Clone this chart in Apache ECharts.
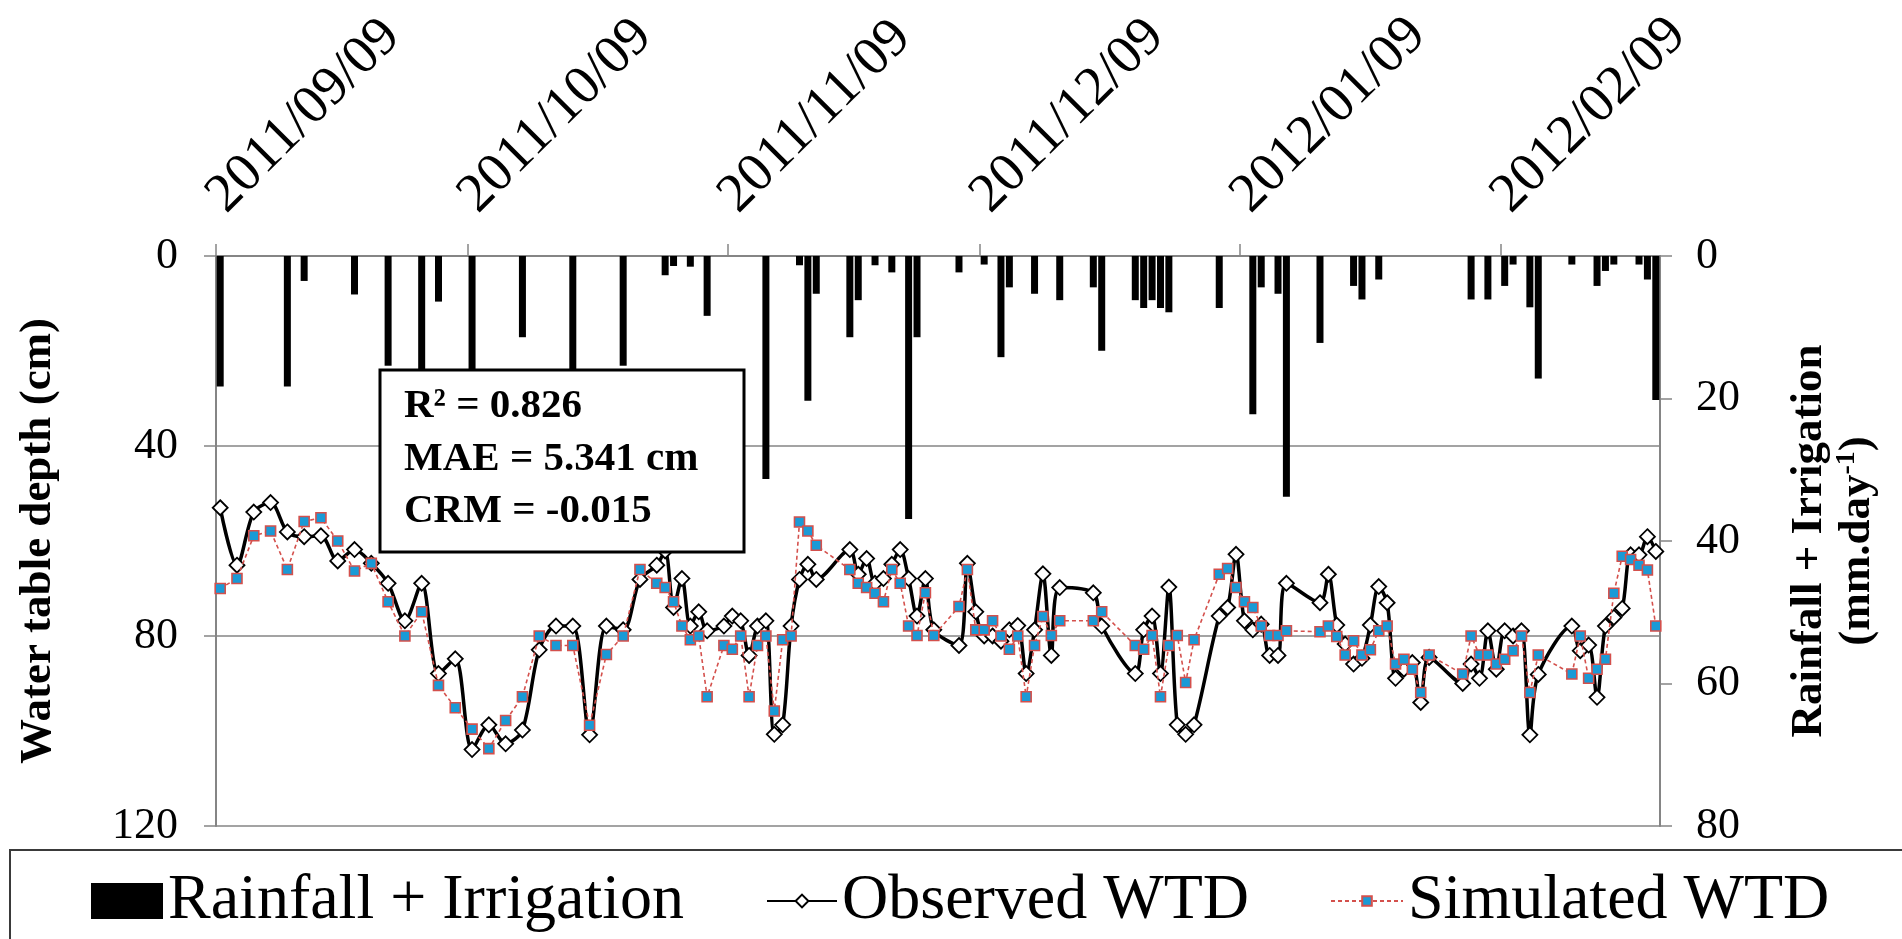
<!DOCTYPE html>
<html><head><meta charset="utf-8">
<script src="https://cdn.jsdelivr.net/npm/echarts@6/dist/echarts.min.js"></script>
<style>html,body{margin:0;padding:0;background:#fff}#c{width:1902px;height:939px}</style>
</head><body><div id="c"></div>
<script>
// ---------- data ----------
const axisStart = '2011/09/09';
const axisEnd = '2012/02/28';
const tickDates = ['2011/09/09','2011/10/09','2011/11/09','2011/12/09','2012/01/09','2012/02/09'];

const rainDates = ['2011/09/09','2011/09/17','2011/09/19','2011/09/25','2011/09/29','2011/10/03','2011/10/05','2011/10/09','2011/10/15','2011/10/21','2011/10/27',
 '2011/11/01','2011/11/02','2011/11/04','2011/11/06','2011/11/13','2011/11/17','2011/11/18','2011/11/19','2011/11/23','2011/11/24','2011/11/26','2011/11/28','2011/11/30',
 '2011/12/01','2011/12/06','2011/12/09','2011/12/11','2011/12/12','2011/12/15','2011/12/18','2011/12/22','2011/12/23','2011/12/27','2011/12/28','2011/12/29','2011/12/30','2011/12/31',
 '2012/01/06','2012/01/10','2012/01/11','2012/01/13','2012/01/14','2012/01/18','2012/01/22','2012/01/23','2012/01/25',
 '2012/02/05','2012/02/07','2012/02/09','2012/02/10','2012/02/12','2012/02/13','2012/02/17','2012/02/20','2012/02/21','2012/02/22','2012/02/25','2012/02/26','2012/02/27'];
const rainValues = [18.3,18.3,3.5,5.4,15.4,24,6.4,22,11.4,27,15.4,
 2.7,1.4,1.5,8.4,31.3,1.3,20.3,5.3,11.4,6.2,1.3,2.3,36.9,
 11.4,2.3,1.2,14.2,4.4,5.3,6.2,4.4,13.3,6.2,7.3,6.2,7.3,7.9,
 7.3,22.2,4.4,5.3,33.8,12.2,4.2,6.1,3.3,
 6.1,6.1,4.2,1.2,7.2,17.2,1.2,4.2,2.1,1.2,1.2,3.3,20.2];

const wtdDates = ['2011/09/09','2011/09/11','2011/09/13','2011/09/15','2011/09/17','2011/09/19','2011/09/21','2011/09/23','2011/09/25','2011/09/27','2011/09/29',
 '2011/10/01','2011/10/03','2011/10/05','2011/10/07','2011/10/09','2011/10/11','2011/10/13','2011/10/15','2011/10/17','2011/10/19','2011/10/21','2011/10/23','2011/10/25','2011/10/27','2011/10/29','2011/10/31',
 '2011/11/01','2011/11/02','2011/11/03','2011/11/04','2011/11/05','2011/11/06','2011/11/08','2011/11/09','2011/11/10','2011/11/11','2011/11/12','2011/11/13','2011/11/14','2011/11/15','2011/11/16','2011/11/17','2011/11/18','2011/11/19',
 '2011/11/23','2011/11/24','2011/11/25','2011/11/26','2011/11/27','2011/11/28','2011/11/29','2011/11/30',
 '2011/12/01','2011/12/02','2011/12/03','2011/12/06','2011/12/07','2011/12/08','2011/12/09','2011/12/10','2011/12/11','2011/12/12','2011/12/13','2011/12/14','2011/12/15','2011/12/16','2011/12/17','2011/12/18',
 '2011/12/22','2011/12/23','2011/12/27','2011/12/28','2011/12/29','2011/12/30','2011/12/31',
 '2012/01/01','2012/01/02','2012/01/03','2012/01/06','2012/01/07','2012/01/08','2012/01/09','2012/01/10','2012/01/11','2012/01/12','2012/01/13','2012/01/14',
 '2012/01/18','2012/01/19','2012/01/20','2012/01/21','2012/01/22','2012/01/23','2012/01/24','2012/01/25','2012/01/26','2012/01/27','2012/01/28','2012/01/29','2012/01/30','2012/01/31',
 '2012/02/04','2012/02/05','2012/02/06','2012/02/07','2012/02/08','2012/02/09','2012/02/10','2012/02/11','2012/02/12','2012/02/13',
 '2012/02/17','2012/02/18','2012/02/19','2012/02/20','2012/02/21','2012/02/22','2012/02/23','2012/02/24','2012/02/25','2012/02/26','2012/02/27'];
const observedWTD = [53.0,65.1,53.9,51.9,58.1,59.1,58.9,64.2,61.8,64.7,68.9,
 76.8,68.9,87.9,84.8,103.9,98.7,102.7,99.8,82.9,77.9,77.9,100.8,77.9,78.7,68.1,65.1,
 62.1,74.0,67.9,77.9,74.9,78.9,77.9,75.8,76.8,84.1,77.9,76.8,100.7,98.7,77.9,68.1,64.9,68.1,
 61.8,67.0,63.7,68.9,67.9,64.9,61.8,67.9,
 75.8,67.9,78.7,82.0,64.7,74.9,80.0,80.0,81.1,78.7,77.8,87.9,78.7,66.9,84.1,69.8,
 70.9,77.9,87.9,78.7,75.8,87.9,69.7,
 98.7,100.7,98.7,75.8,74.0,62.8,76.8,78.7,77.5,84.1,84.1,68.9,
 73.0,67.0,77.7,81.7,85.9,84.7,77.7,69.6,73.0,88.9,87.0,85.6,94.0,84.5,
 90.0,85.9,88.9,78.9,87.0,78.9,80.0,78.9,100.8,88.1,
 77.9,83.1,81.9,92.9,77.9,76.1,74.2,62.9,62.9,59.1,62.2];
const simulatedWTD = [70.0,67.9,58.9,57.9,66.0,55.9,55.1,60.0,66.3,64.7,72.8,
 80.0,74.9,90.4,95.1,99.6,103.7,97.8,92.8,80.0,82.0,82.0,98.8,83.9,80.0,66.0,68.9,
 69.8,72.8,77.9,80.8,80.0,92.8,82.0,82.8,80.0,92.8,82.0,80.0,95.8,80.8,80.0,56.0,57.9,60.9,
 66.0,68.9,69.8,71.0,72.8,66.0,68.9,77.9,
 79.9,70.9,79.9,73.8,66.0,78.7,78.7,76.8,80.0,82.8,80.0,92.8,82.0,75.9,79.9,76.8,
 76.8,74.9,82.0,82.8,79.9,92.8,82.0,
 79.9,89.8,80.8,67.0,65.8,69.8,72.8,74.0,77.9,79.9,79.9,78.9,
 79.1,77.9,80.1,84.0,81.0,84.0,82.9,78.9,77.9,85.9,84.9,87.0,91.9,84.0,
 88.0,80.0,84.0,84.0,85.9,84.9,83.1,80.0,91.9,84.0,
 88.0,80.0,88.9,87.0,84.9,71.0,63.2,63.9,65.1,66.1,77.9];

const statLines = ['R\u00B2 = 0.826', 'MAE = 5.341 cm', 'CRM = -0.015'];

// ---------- helpers ----------
function ymd(s){const p=s.split('/').map(Number);return Date.UTC(p[0],p[1]-1,p[2]);}
const ORIGIN = ymd(axisStart);
function dayOff(s){return (ymd(s)-ORIGIN)/86400000;}
function mid(s){return dayOff(s)+0.5;}
const tickOffsets = tickDates.map(dayOff);
const tickLabelMap = {};
tickDates.forEach((d,i)=>{tickLabelMap[tickOffsets[i]]=d;});

const FONT = 'Liberation Serif';
const GREY = '#858585';
const statStyle = {fontFamily:FONT,fontSize:41,fontWeight:'bold',fill:'#000',verticalAlign:'middle',align:'left'};

const chart = echarts.init(document.getElementById('c'));
chart.setOption({
  backgroundColor:'#ffffff',
  animation:false,
  grid:{left:216,right:242,top:256,bottom:113,containLabel:false},
  xAxis:{
    type:'value', position:'top', min:0, max:dayOff(axisEnd),
    axisLine:{show:true,lineStyle:{color:GREY,width:2}},
    axisTick:{show:true,customValues:tickOffsets,length:12,lineStyle:{color:GREY,width:1.5}},
    axisLabel:{show:true,customValues:tickOffsets,rotate:45,margin:52,align:'left',verticalAlign:'middle',
      fontFamily:FONT,fontSize:55,color:'#000',formatter:v=>tickLabelMap[v]||''},
    splitLine:{show:false}
  },
  yAxis:[
    {type:'value',inverse:true,min:0,max:120,interval:40,position:'left',
     name:'Water table depth (cm)',nameLocation:'middle',nameRotate:90,nameGap:155,
     nameTextStyle:{fontFamily:FONT,fontSize:45,fontWeight:'bold',color:'#000'},
     axisLine:{show:true,lineStyle:{color:GREY,width:2}},
     axisTick:{show:true,length:12,lineStyle:{color:GREY,width:1.5}},
     axisLabel:{fontFamily:FONT,fontSize:44,color:'#000',margin:38},
     splitLine:{show:true,lineStyle:{color:GREY,width:1.5}}},
    {type:'value',inverse:true,min:0,max:80,interval:20,position:'right',
     name:'{t|Rainfall + Irrigation}\n{t|(mm.day}{s|-1}{t|)}',nameLocation:'middle',nameRotate:90,nameGap:125,
     nameTextStyle:{fontFamily:FONT,fontSize:45,fontWeight:'bold',color:'#000',align:'center',
       rich:{t:{fontFamily:FONT,fontSize:45,fontWeight:'bold',color:'#000',lineHeight:48},
             s:{fontFamily:FONT,fontSize:28,fontWeight:'bold',color:'#000',lineHeight:48,verticalAlign:'top'}}},
     axisLine:{show:true,lineStyle:{color:GREY,width:2}},
     axisTick:{show:true,length:12,lineStyle:{color:GREY,width:1.5}},
     axisLabel:{fontFamily:FONT,fontSize:44,color:'#000',margin:36},
     splitLine:{show:false}}
  ],
  legend:[
    {data:['Rainfall + Irrigation'],left:91,top:868,padding:0,icon:'rect',itemWidth:72,itemHeight:36,itemGap:0,
     textStyle:{fontFamily:FONT,fontSize:64,color:'#000',lineHeight:66}},
    {data:['Observed WTD'],left:766,top:868,padding:0,itemWidth:70,itemHeight:16,itemGap:0,
     textStyle:{fontFamily:FONT,fontSize:64,color:'#000',lineHeight:66}},
    {data:['Simulated WTD'],left:1330,top:868,padding:0,itemWidth:72,itemHeight:12,itemGap:0,
     textStyle:{fontFamily:FONT,fontSize:64,color:'#000',lineHeight:66}}
  ],
  graphic:[
    {type:'rect',z:-10,shape:{x:10,y:850,width:1920,height:120},style:{fill:'#fff',stroke:'#3a3a3a',lineWidth:2}},
    {type:'rect',z:100,shape:{x:380,y:370,width:364,height:182},style:{fill:'#fff',stroke:'#000',lineWidth:3}},
    {type:'text',z:101,x:404,y:406,style:Object.assign({text:statLines[0]},statStyle)},
    {type:'text',z:101,x:404,y:459,style:Object.assign({text:statLines[1]},statStyle)},
    {type:'text',z:101,x:404,y:511,style:Object.assign({text:statLines[2]},statStyle)}
  ],
  series:[
    {name:'Rainfall + Irrigation',type:'bar',yAxisIndex:1,barWidth:7,
     itemStyle:{color:'#000'},
     data:rainDates.map((d,i)=>[mid(d),rainValues[i]])},
    {name:'Observed WTD',type:'line',yAxisIndex:0,smooth:0.3,z:5,
     symbol:'diamond',symbolSize:[15,15],showAllSymbol:true,
     itemStyle:{color:'#fff',borderColor:'#000',borderWidth:1.8},
     lineStyle:{color:'#000',width:3.5},
     data:wtdDates.map((d,i)=>[mid(d),observedWTD[i]])},
    {name:'Simulated WTD',type:'line',yAxisIndex:0,z:6,
     symbol:'rect',symbolSize:10,showAllSymbol:true,
     itemStyle:{color:'#1a9ad6',borderColor:'#d4504c',borderWidth:1.6},
     lineStyle:{color:'#d4504c',width:1.6,type:[4,3]},
     data:wtdDates.map((d,i)=>[mid(d),simulatedWTD[i]])}
  ]
});
</script></body></html>
